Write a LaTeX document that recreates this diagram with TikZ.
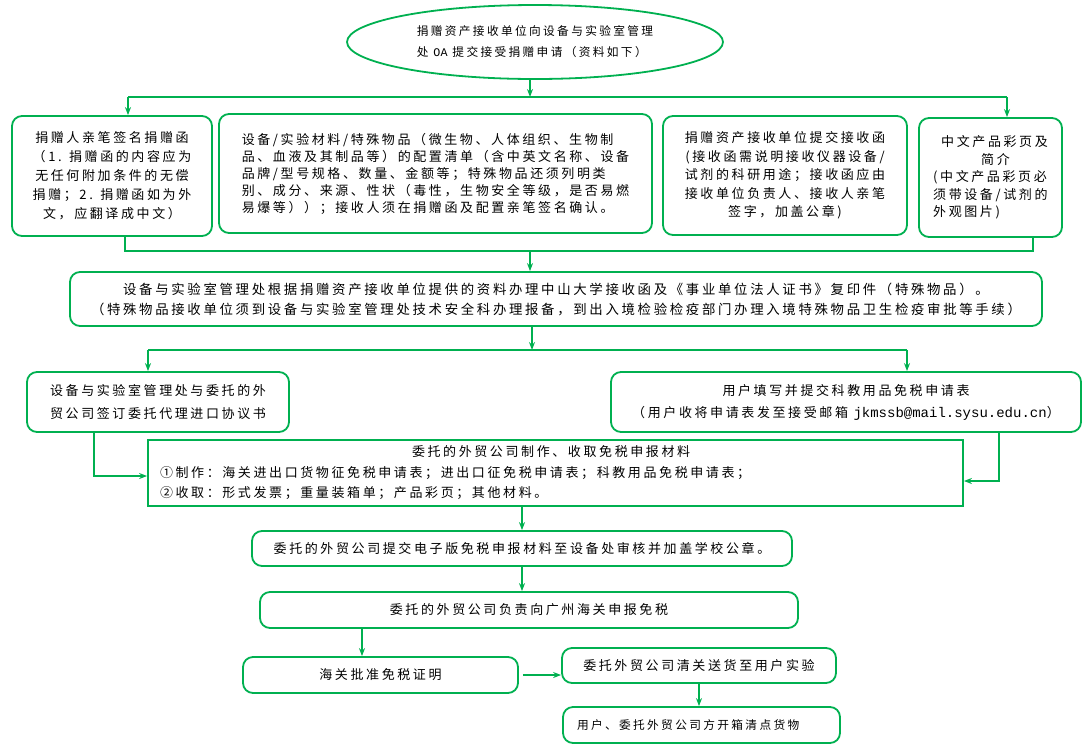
\documentclass[tikz,border=0pt]{standalone}
\usepackage{fontspec}
\usepackage{xcolor}
\usepackage{tikz}
\usetikzlibrary{shapes.geometric, arrows.meta, positioning, calc}
\newfontfamily\cjk[LetterSpace=20]{Noto Sans CJK SC}
\newfontfamily\mono{Liberation Mono}
\definecolor{flowgreen}{HTML}{00B050}

\begin{document}
\begin{tikzpicture}[
    x=1pt, y=-1pt,
    box/.style={draw=flowgreen, line width=1.8pt, rectangle, rounded corners=10pt, inner sep=0pt, align=center, font=\cjk\fontsize{13}{18.5}\selectfont},
    arrow/.style={flowgreen, line width=1.4pt, -{Stealth[length=8pt, width=6pt]}},
    line/.style={flowgreen, line width=1.4pt}
]
\useasboundingbox (0,0) rectangle (1087,748);

% Application
\node (apply) [ellipse, draw=flowgreen, line width=1.8pt, minimum width=376pt, minimum height=74pt, inner sep=0pt, align=left, font=\cjk\fontsize{11.7}{21}\selectfont] at (535,42) {捐赠资产接收单位向设备与实验室管理\\处 {\mono OA} 提交接受捐赠申请（资料如下）};

% Materials Group
\node (donor) [box, minimum width=200pt, minimum height=120pt, font=\cjk\fontsize{13}{19}\selectfont] at (112,176) {捐赠人亲笔签名捐赠函\\（1. 捐赠函的内容应为\\无任何附加条件的无偿\\捐赠；2. 捐赠函如为外\\文，应翻译成中文）};
\node (config) [box, minimum width=433pt, minimum height=119pt, align=left, font=\cjk\fontsize{13}{17}\selectfont] at (435.5,173.5) {设备/实验材料/特殊物品（微生物、人体组织、生物制\\品、血液及其制品等）的配置清单（含中英文名称、设备\\品牌/型号规格、数量、金额等；特殊物品还须列明类\\别、成分、来源、性状（毒性，生物安全等级，是否易燃\\易爆等））；接收人须在捐赠函及配置亲笔签名确认。};
\node (letter) [box, minimum width=244pt, minimum height=119pt] at (785,175.5) {捐赠资产接收单位提交接收函\\(接收函需说明接收仪器设备/\\试剂的科研用途；接收函应由\\接收单位负责人、接收人亲笔\\签字，加盖公章)};
\node (brochure) [box, minimum width=143pt, minimum height=119pt, align=left, font=\cjk\fontsize{13}{17.5}\selectfont] at (990.5,177.5) {\hspace*{8pt}中文产品彩页及\\\hspace*{48pt}简介\\(中文产品彩页必\\须带设备/试剂的\\外观图片)};

% Handling
\node (handle) [box, minimum width=972pt, minimum height=54pt, font=\cjk\fontsize{13.4}{20}\selectfont] at (556,299) {设备与实验室管理处根据捐赠资产接收单位提供的资料办理中山大学接收函及《事业单位法人证书》复印件（特殊物品）。\\（特殊物品接收单位须到设备与实验室管理处技术安全科办理报备，到出入境检验检疫部门办理入境特殊物品卫生检疫审批等手续）};

% Import Group
\node (agent) [box, minimum width=262pt, minimum height=60pt, align=left, font=\cjk\fontsize{13}{23}\selectfont] at (158,402) {设备与实验室管理处与委托的外\\贸公司签订委托代理进口协议书};
\node (form) [box, minimum width=470pt, minimum height=60pt, font=\cjk\fontsize{13}{22}\selectfont] at (846,402) {用户填写并提交科教用品免税申请表\\（用户收将申请表发至接受邮箱 {\mono\fontsize{14}{22}\selectfont jkmssb@mail.sysu.edu.cn}）};
\node (prepare) [box, rounded corners=0pt, text width=791pt, inner xsep=12pt, minimum height=66pt, align=left, font=\cjk\fontsize{13}{20.5}\selectfont] at (555.5,473) {\hspace*{252pt}委托的外贸公司制作、收取免税申报材料\\①制作：海关进出口货物征免税申请表；进出口征免税申请表；科教用品免税申请表；\\②收取：形式发票；重量装箱单；产品彩页；其他材料。};

% Customs Group
\node (submit) [box, minimum width=540pt, minimum height=35pt] at (522,548.5) {委托的外贸公司提交电子版免税申报材料至设备处审核并加盖学校公章。};
\node (declare) [box, minimum width=538pt, minimum height=36pt] at (529,610) {委托的外贸公司负责向广州海关申报免税};
\node (approve) [box, minimum width=275pt, minimum height=36pt] at (380.5,675) {海关批准免税证明};
\node (deliver) [box, minimum width=274pt, minimum height=35pt] at (699,665.5) {委托外贸公司清关送货至用户实验};
\node (unpack) [box, text width=249pt, inner xsep=14pt, minimum height=36pt, align=left, font=\cjk\fontsize{11.7}{16}\selectfont] at (701.5,725) {用户、委托外贸公司方开箱清点货物};

% Arrows
\coordinate (split1) at (530,97);
\coordinate (split1l) at (128,97);
\coordinate (split1r) at (1007,97);
\draw[arrow] (apply.south -| split1) -- (split1);
\draw[line] (split1l) -- (split1r);
\draw[arrow] (split1l) -- (split1l |- donor.north);
\draw[arrow] (split1r) -- (split1r |- brochure.north);

\coordinate (merge) at (530,251);
\coordinate (mergel) at (125,251);
\coordinate (merger) at (1033,251);
\draw[line] (mergel |- donor.south) -- (mergel) -- (merger) -- (merger |- brochure.south);
\draw[arrow] (merge) -- (merge |- handle.north);

\coordinate (split2) at (532,350);
\coordinate (split2l) at (148,350);
\coordinate (split2r) at (907,350);
\draw[arrow] (split2 |- handle.south) -- (split2);
\draw[line] (split2l) -- (split2r);
\draw[arrow] (split2l) -- (split2l |- agent.north);
\draw[arrow] (split2r) -- (split2r |- form.north);

\coordinate (bendl) at (94,476);
\coordinate (bendr) at (999,481);
\draw[arrow] (bendl |- agent.south) -- (bendl) -- (bendl -| prepare.west);
\draw[arrow] (bendr |- form.south) -- (bendr) -- (bendr -| prepare.east);

\draw[arrow] (submit.north |- prepare.south) -- (submit.north);
\draw[arrow] (submit.south) -- (submit.south |- declare.north);
\coordinate (drop) at (362,640);
\draw[arrow] (drop |- declare.south) -- (drop |- approve.north);
\draw[arrow, shorten <=4pt] (approve.east) -- (approve.east -| deliver.west);
\draw[arrow] (deliver.south) -- (deliver.south |- unpack.north);

\end{tikzpicture}
\end{document}
